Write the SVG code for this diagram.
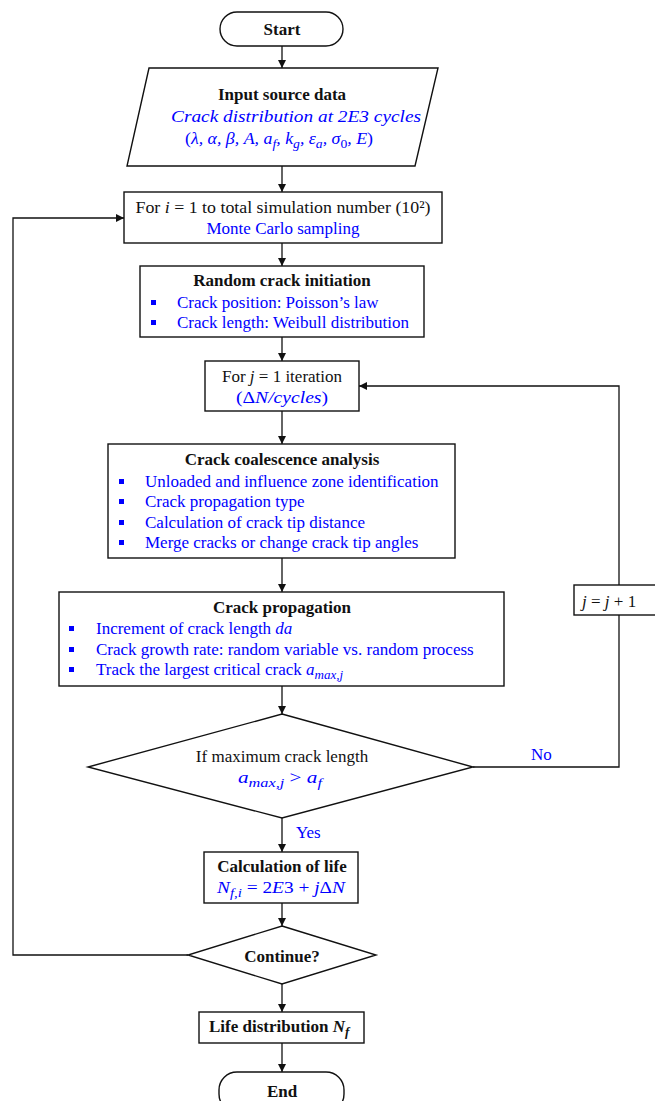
<svg xmlns="http://www.w3.org/2000/svg" width="655" height="1101" viewBox="0 0 655 1101">
<style>
.t{font-family:"Liberation Serif","Times New Roman",serif;font-size:17px;fill:#111}
.b{font-weight:bold}
.bl{fill:#0000ff}
.it{font-style:italic}
.c{text-anchor:middle}
.sh{fill:#fff;stroke:#111;stroke-width:1.4}
.ln{fill:none;stroke:#111;stroke-width:1.3}
.bu{fill:#0000ff}
</style>
<defs>
<marker id="ah" viewBox="0 0 10 10" refX="10" refY="5" markerWidth="8" markerHeight="8" markerUnits="userSpaceOnUse" orient="auto">
<path d="M0,0 L10,5 L0,10 z" fill="#111"/>
</marker>
</defs>
<rect width="655" height="1101" fill="#fff"/>

<g id="connectors">
<line class="ln" x1="282" y1="46" x2="282" y2="68" marker-end="url(#ah)"/>
<line class="ln" x1="282" y1="166" x2="282" y2="192" marker-end="url(#ah)"/>
<line class="ln" x1="282" y1="243" x2="282" y2="266" marker-end="url(#ah)"/>
<line class="ln" x1="282" y1="337" x2="282" y2="361" marker-end="url(#ah)"/>
<line class="ln" x1="282" y1="411" x2="282" y2="444" marker-end="url(#ah)"/>
<line class="ln" x1="282" y1="558" x2="282" y2="592" marker-end="url(#ah)"/>
<line class="ln" x1="282" y1="686" x2="282" y2="714" marker-end="url(#ah)"/>
<line class="ln" x1="282" y1="818" x2="282" y2="852" marker-end="url(#ah)"/>
<line class="ln" x1="282" y1="903" x2="282" y2="926" marker-end="url(#ah)"/>
<line class="ln" x1="282" y1="984" x2="282" y2="1012" marker-end="url(#ah)"/>
<line class="ln" x1="282" y1="1043" x2="282" y2="1072" marker-end="url(#ah)"/>
<polyline class="ln" points="473,767 619,767 619,386 359,386" marker-end="url(#ah)"/>
<polyline class="ln" points="188,955 13,955 13,218 124,218" marker-end="url(#ah)"/>
<text class="t bl" x="531" y="760">No</text>
<text class="t bl" x="296" y="838">Yes</text>
</g>

<g id="start">
<rect class="sh" x="220" y="12" width="123" height="34" rx="17"/>
<text class="t b c" x="282" y="35">Start</text>
</g>

<g id="input">
<polygon class="sh" points="149,68 438,68 415,166 127,166"/>
<text class="t b c" x="282" y="100">Input source data</text>
<text class="t bl it" x="171" y="122" textLength="250" lengthAdjust="spacingAndGlyphs">Crack distribution at 2E3 cycles</text>
<text class="t bl it" x="185" y="144" textLength="188" lengthAdjust="spacingAndGlyphs"><tspan font-style="normal">(</tspan>λ, α, β, A, a<tspan font-size="13" baseline-shift="-4">f</tspan>, k<tspan font-size="13" baseline-shift="-4">g</tspan>, ε<tspan font-size="13" baseline-shift="-4">a</tspan>, σ<tspan font-size="13" font-style="normal" baseline-shift="-4">0</tspan>, E<tspan font-style="normal">)</tspan></text>
</g>

<g id="loop-i">
<rect class="sh" x="124" y="192" width="318" height="51"/>
<text class="t c" x="283" y="213" textLength="295" lengthAdjust="spacingAndGlyphs">For <tspan class="it">i</tspan> = 1 to total simulation number (10²)</text>
<text class="t bl c" x="283" y="234">Monte Carlo sampling</text>
</g>

<g id="initiation">
<rect class="sh" x="140" y="266" width="284" height="71"/>
<text class="t b c" x="282" y="286">Random crack initiation</text>
<rect class="bu" x="151" y="300" width="5" height="5"/>
<text class="t bl" x="177" y="308">Crack position: Poisson’s law</text>
<rect class="bu" x="151" y="320" width="5" height="5"/>
<text class="t bl" x="177" y="328">Crack length: Weibull distribution</text>
</g>

<g id="loop-j">
<rect class="sh" x="205" y="361" width="154" height="50"/>
<text class="t c" x="282" y="382">For <tspan class="it">j</tspan> = 1 iteration</text>
<text class="t bl it" x="236" y="403" textLength="92" lengthAdjust="spacingAndGlyphs"><tspan font-style="normal">(Δ</tspan>N/cycles<tspan font-style="normal">)</tspan></text>
</g>

<g id="coalescence">
<rect class="sh" x="108" y="444" width="347" height="114"/>
<text class="t b c" x="282" y="465">Crack coalescence analysis</text>
<rect class="bu" x="119" y="479" width="5" height="5"/>
<text class="t bl" x="145" y="487">Unloaded and influence zone identification</text>
<rect class="bu" x="119" y="499" width="5" height="5"/>
<text class="t bl" x="145" y="507">Crack propagation type</text>
<rect class="bu" x="119" y="520" width="5" height="5"/>
<text class="t bl" x="145" y="528">Calculation of crack tip distance</text>
<rect class="bu" x="119" y="540" width="5" height="5"/>
<text class="t bl" x="145" y="548">Merge cracks or change crack tip angles</text>
</g>

<g id="propagation">
<rect class="sh" x="59" y="592" width="445" height="94"/>
<text class="t b c" x="282" y="613">Crack propagation</text>
<rect class="bu" x="69" y="626" width="5" height="5"/>
<text class="t bl" x="96" y="634">Increment of crack length <tspan class="it">da</tspan></text>
<rect class="bu" x="69" y="647" width="5" height="5"/>
<text class="t bl" x="96" y="655">Crack growth rate: random variable vs. random process</text>
<rect class="bu" x="69" y="667" width="5" height="5"/>
<text class="t bl" x="96" y="675">Track the largest critical crack <tspan class="it">a<tspan font-size="13" baseline-shift="-4">max,j</tspan></tspan></text>
</g>

<g id="decision">
<polygon class="sh" points="282,714 473,767 282,818 88,767"/>
<text class="t c" x="282" y="762">If maximum crack length</text>
<text class="t bl it" x="238" y="783" textLength="84" lengthAdjust="spacingAndGlyphs">a<tspan font-size="13" baseline-shift="-4">max,j</tspan><tspan font-style="normal"> &gt; </tspan>a<tspan font-size="13" baseline-shift="-4">f</tspan></text>
</g>

<g id="increment">
<rect class="sh" x="574" y="585" width="90" height="30"/>
<text class="t" x="582" y="607"><tspan class="it">j</tspan> = <tspan class="it">j</tspan> + 1</text>
</g>

<g id="life-calc">
<rect class="sh" x="204" y="852" width="154" height="51"/>
<text class="t b c" x="282" y="872">Calculation of life</text>
<text class="t bl it" x="217" y="893" textLength="128" lengthAdjust="spacingAndGlyphs">N<tspan font-size="13" baseline-shift="-4">f,i</tspan><tspan font-style="normal"> = 2</tspan>E<tspan font-style="normal">3 + </tspan>j<tspan font-style="normal">Δ</tspan>N</text>
</g>

<g id="continue">
<polygon class="sh" points="282,926 376,955 282,984 188,955"/>
<text class="t b c" x="282" y="962">Continue?</text>
</g>

<g id="life-dist">
<rect class="sh" x="199" y="1012" width="165" height="31"/>
<text class="t b" x="209" y="1032">Life distribution <tspan class="it">N<tspan font-size="13" baseline-shift="-4">f</tspan></tspan></text>
</g>

<g id="end">
<rect class="sh" x="219" y="1072" width="125" height="40" rx="18"/>
<text class="t b c" x="282" y="1097">End</text>
</g>
</svg>
